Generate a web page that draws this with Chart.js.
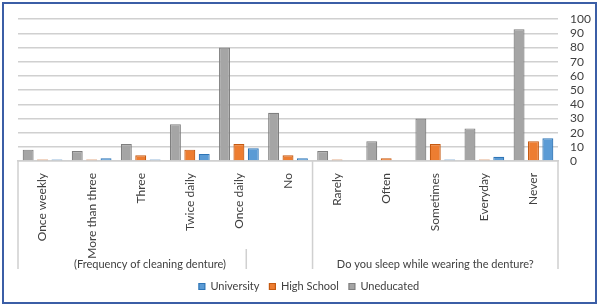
<!DOCTYPE html>
<html>
<head>
<meta charset="utf-8">
<script src="https://cdn.jsdelivr.net/npm/chart.js@4.4.1/dist/chart.umd.min.js"></script>
<style>
  html, body { margin: 0; padding: 0; background: #fff; }
  #wrap { position: relative; width: 600px; height: 308px; }
  #frame {
    position: absolute; left: 2px; top: 2px; width: 591px; height: 298px;
    border: 2.5px solid #3b5ea6; pointer-events: none;
  }
  canvas { position: absolute; left: 0; top: 0; }
</style>
</head>
<body>
<div id="wrap">
  <canvas id="chart" width="600" height="308"></canvas>
  <div id="frame"></div>
</div>
<script>
const categories = ["Once weekly", "More than three", "Three", "Twice daily", "Once daily", "No",
                    "Rarely", "Often", "Sometimes", "Everyday", "Never"];
const university = [1, 2, 1, 5, 9, 2, 0, 0, 1, 3, 16];
const highSchool = [1, 1, 4, 8, 12, 4, 1, 2, 12, 1, 14];
const uneducated = [8, 7, 12, 26, 80, 34, 7, 14, 30, 23, 93];
const yTicks = [0, 10, 20, 30, 40, 50, 60, 70, 80, 90, 100];
const groupLabels = ["(Frequency of cleaning denture)", "Do you sleep while wearing the denture?"];

const FONT = "Lato, 'Open Sans', sans-serif";
const LINE = "#d0d0d0";
const TEXT = "#404040";

// second level of the category axis (group labels + separators)
const groupAxis = {
    id: "groupAxis",
    afterDraw(chart) {
        const x = chart.scales.x;
        const ctx = chart.ctx;
        const step = x.getPixelForValue(1) - x.getPixelForValue(0);
        const top = x.top;
        const bottom = x.top + 108;
        const split = (x.getPixelForValue(5) + x.getPixelForValue(6)) / 2;
        const shortLine = x.getPixelForValue(4) + step * 0.15;

        ctx.save();
        ctx.strokeStyle = LINE;
        ctx.lineWidth = 1.5;
        ctx.beginPath();
        [x.left, split, x.right].forEach(px => {
            ctx.moveTo(px, top);
            ctx.lineTo(px, bottom);
        });
        ctx.moveTo(shortLine, bottom - 20);
        ctx.lineTo(shortLine, bottom);
        ctx.stroke();

        ctx.fillStyle = TEXT;
        ctx.font = "11px " + FONT;
        ctx.textAlign = "center";
        ctx.textBaseline = "middle";
        ctx.fillText(groupLabels[0], x.getPixelForValue(2) + step * 0.19, bottom - 5);
        ctx.fillText(groupLabels[1], (split + x.right) / 2, bottom - 5);
        ctx.restore();
    }
};

new Chart(document.getElementById("chart").getContext("2d"), {
    type: "bar",
    data: {
        labels: categories,
        datasets: [
            { label: "Uneducated", data: uneducated, backgroundColor: "#a5a5a5", borderColor: "#7f7f7f" },
            { label: "High School", data: highSchool, backgroundColor: "#ed7d31", borderColor: "#c55a11" },
            { label: "University", data: university, backgroundColor: "#5b9bd5", borderColor: "#2e75b6" },
        ],
    },
    options: {
        responsive: false,
        animation: false,
        layout: { padding: { left: 18, right: 0, top: 17, bottom: 6 } },
        datasets: {
            bar: { borderWidth: 1.2, categoryPercentage: 0.88, barPercentage: 0.76 },
        },
        plugins: {
            tooltip: { enabled: false },
            legend: {
                position: "bottom",
                labels: {
                    boxWidth: 6,
                    boxHeight: 6,
                    padding: 10,
                    color: TEXT,
                    font: { family: FONT, size: 11 },
                    sort: (a, b) => b.datasetIndex - a.datasetIndex,
                },
            },
        },
        scales: {
            x: {
                grid: { display: false },
                border: { display: true, color: LINE, width: 1.5 },
                ticks: {
                    autoSkip: false,
                    maxRotation: 90,
                    minRotation: 90,
                    padding: 4,
                    color: TEXT,
                    font: { family: FONT, size: 12 },
                },
                afterFit: (s) => { s.height = 110; },
            },
            y: {
                position: "right",
                min: 0,
                max: 100,
                afterBuildTicks: (s) => { s.ticks = yTicks.map(v => ({ value: v })); },
                grid: { color: LINE, lineWidth: 1.5, drawTicks: false },
                border: { display: false },
                ticks: {
                    autoSkip: false,
                    padding: 12,
                    color: TEXT,
                    font: { family: FONT, size: 12 },
                },
                afterFit: (s) => { s.width = 42; },
            },
        },
    },
    plugins: [groupAxis],
});
</script>
</body>
</html>
